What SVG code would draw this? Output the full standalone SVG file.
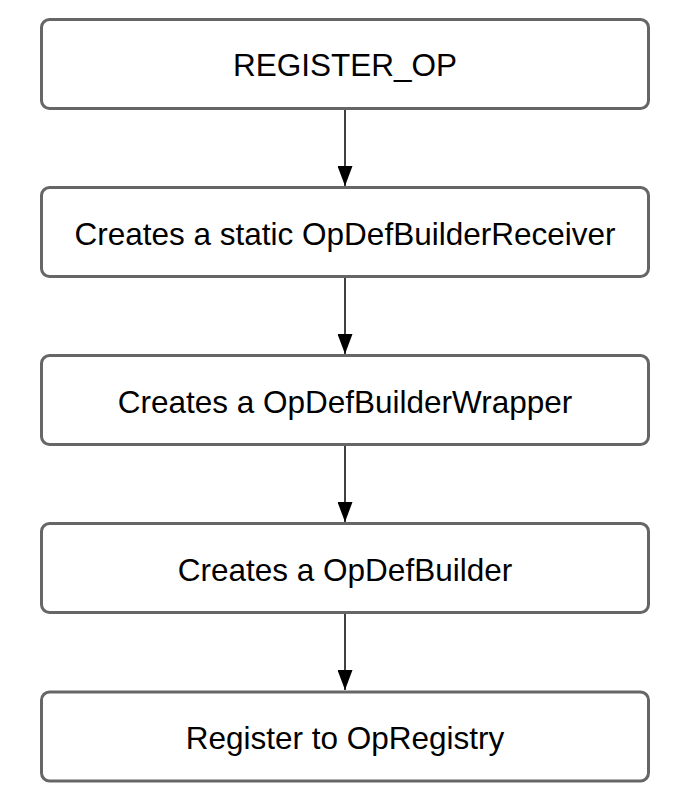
<svg xmlns="http://www.w3.org/2000/svg" width="696" height="802" viewBox="0 0 696 802">
<defs>
<style>
.box{fill:#ffffff;stroke:#666666;stroke-width:3}
.lbl{font-family:"Liberation Sans",Arial,sans-serif;font-size:31.5px;fill:#000000;text-anchor:middle}
.edge{stroke:#000000;stroke-width:1.5;fill:none}
</style>
<marker id="arr" markerWidth="20" markerHeight="15" refX="20" refY="7.5" orient="auto" markerUnits="userSpaceOnUse" viewBox="0 0 20 15">
<path d="M0,0 L20,7.5 L0,15 z" fill="#000000"/>
</marker>
</defs>
<rect width="696" height="802" fill="#ffffff"/>
<g id="connectors">
<line class="edge" x1="345" y1="110" x2="345" y2="186" marker-end="url(#arr)"/>
<line class="edge" x1="345" y1="278" x2="345" y2="354" marker-end="url(#arr)"/>
<line class="edge" x1="345" y1="446" x2="345" y2="522" marker-end="url(#arr)"/>
<line class="edge" x1="345" y1="614" x2="345" y2="690" marker-end="url(#arr)"/>
</g>
<g id="n1"><rect class="box" x="41.5" y="19.5" width="607" height="89" rx="8"/><text class="lbl" x="345" y="76">REGISTER_OP</text></g>
<g id="n2"><rect class="box" x="41.5" y="187.5" width="607" height="89" rx="8"/><text class="lbl" x="345" y="244.5">Creates a static OpDefBuilderReceiver</text></g>
<g id="n3"><rect class="box" x="41.5" y="355.5" width="607" height="89" rx="8"/><text class="lbl" x="345" y="412.5">Creates a OpDefBuilderWrapper</text></g>
<g id="n4"><rect class="box" x="41.5" y="523.5" width="607" height="89" rx="8"/><text class="lbl" x="345" y="580.5">Creates a OpDefBuilder</text></g>
<g id="n5"><rect class="box" x="41.5" y="692" width="607" height="89" rx="8"/><text class="lbl" x="345" y="749">Register to OpRegistry</text></g>
</svg>
